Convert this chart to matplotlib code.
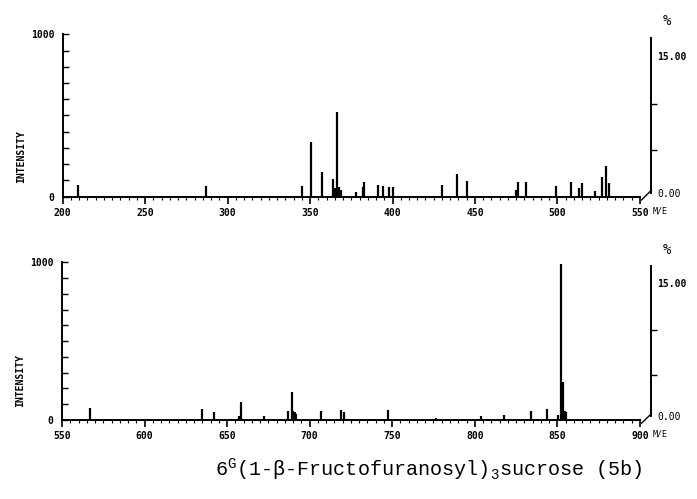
import matplotlib as mpl
import matplotlib.pyplot as plt

mpl.use('Agg')
plt.rcParams['mathtext.fontset'] = 'custom'
plt.rcParams['mathtext.rm'] = 'Liberation Mono'
plt.rcParams['mathtext.it'] = 'Liberation Mono'

# peaks (m/e, intensity out of 1000)
top_mz = [209, 287, 345, 350.5, 357, 363.8, 365, 366.5, 367.5, 368.5, 378, 382, 383,
          391, 394.5, 398, 400.5, 430, 439, 445, 475, 476, 481, 499, 508, 513, 515,
          523, 527, 529.5, 531.5]
top_int = [72, 68, 68, 337, 152, 109, 55, 519, 60, 40, 30, 60, 90,
           70, 63, 60, 60, 72, 137, 97, 40, 92, 92, 63, 88, 51, 82,
           37, 120, 188, 82]

bottom_mz = [567, 635, 642, 657, 658.5, 672.5, 687, 689, 690, 691, 692, 707, 719, 721,
             747.5, 776.5, 804, 818, 834, 843.5, 850.5, 852.5, 853.2, 854.5, 855.5]
bottom_int = [76, 70, 48, 27, 112, 27, 55, 176, 60, 50, 40, 55, 63, 49,
              63, 10, 25, 30, 57, 67, 30, 990, 240, 60, 50]

top_range = (200, 550)
bottom_range = (550, 900)
pct_max = 17.44  # % value at the top of the intensity axis

tick_font = dict(family='DejaVu Sans Mono', fontweight='bold', fontsize=7)

fig = plt.figure(figsize=(6.97, 4.99), dpi=100)


def draw_panel(rect, mz, inten, xr):
    ax = fig.add_axes(rect)
    ax.vlines(mz, 0, inten, colors='black', linewidth=1.6)
    ax.set_xlim(*xr)
    ax.set_ylim(0, 1000)
    for side in ('top', 'right'):
        ax.spines[side].set_visible(False)
    ax.spines['left'].set_linewidth(1.4)
    ax.spines['bottom'].set_linewidth(1.4)

    ax.set_xticks(range(xr[0], xr[1] + 1, 50))
    ax.set_xticks(range(xr[0], xr[1] + 1, 5), minor=True)
    ax.tick_params(axis='x', which='major', direction='out', length=5, width=1.2, pad=3)
    ax.tick_params(axis='x', which='minor', direction='out', length=2, width=0.8)
    for lab in ax.get_xticklabels():
        lab.set(**tick_font)

    ax.set_yticks(range(0, 1001, 100))
    ax.set_yticklabels(['0'] + [''] * 9 + ['1000'], **tick_font)
    ax.tick_params(axis='y', direction='in', length=4, width=1.0, pad=6)

    ax.text(-0.072, 250, 'INTENSITY', rotation=90, ha='center', va='center',
            transform=ax.get_yaxis_transform(), **tick_font)
    ax.text(1.022, -0.06, 'M/E', ha='left', va='top', transform=ax.transAxes,
            family='DejaVu Sans Mono', fontsize=6)

    # percent axis on the right, joined to the m/e axis by a slash
    rax = ax.twinx()
    rax.set_ylim(0, pct_max)
    for side in ('top', 'left', 'bottom'):
        rax.spines[side].set_visible(False)
    rax.spines['right'].set_position(('axes', 1.02))
    rax.spines['right'].set_bounds(0.4, 0.975 * pct_max)
    rax.spines['right'].set_linewidth(1.4)
    rax.set_yticks([5, 10])
    rax.set_yticklabels([])
    rax.tick_params(axis='y', direction='out', length=4, width=1.0)
    ax.plot([1.003, 1.02], [-0.02, 0.04], color='black', lw=1.0,
            transform=ax.transAxes, clip_on=False)
    rax.text(1.03, 15, '15.00', ha='left', va='center',
             transform=rax.get_yaxis_transform(), **tick_font)
    rax.text(1.03, 0.3, '0.00', ha='left', va='center',
             transform=rax.get_yaxis_transform(), family='DejaVu Sans Mono', fontsize=7)
    rax.text(1.04, 1.08, '%', ha='left', va='center', transform=rax.transAxes,
             family='DejaVu Sans Mono', fontsize=10)
    return ax


draw_panel([0.090, 0.6058, 0.828, 0.3255], top_mz, top_int, top_range)
draw_panel([0.089, 0.1583, 0.829, 0.316], bottom_mz, bottom_int, bottom_range)

fig.text(0.6155, 0.058, r'6$^{\mathrm{G}}$(1-β-Fructofuranosyl)$_{\mathrm{3}}$sucrose (5b)',
         ha='center', va='center', family='Liberation Mono', fontsize=14.5)

fig.savefig('out.png', dpi=100)
